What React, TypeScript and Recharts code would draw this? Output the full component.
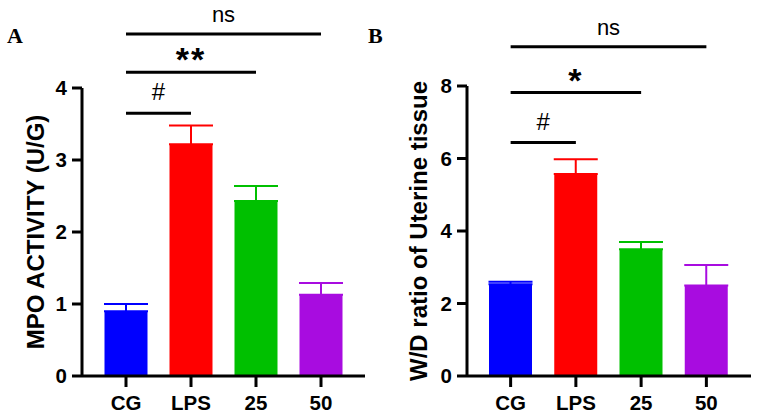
import React from "react";
import { BarChart, Bar, XAxis, YAxis, ErrorBar, ReferenceLine, Label } from "recharts";

const categories = ["CG", "LPS", "25", "50"];
const barColors = ["#0000FF", "#FF0000", "#00C000", "#A80CE0"];

// panel A: MPO activity
const mpoMean = [0.9, 3.22, 2.43, 1.13];
const mpoErr = [0.1, 0.26, 0.21, 0.16];
const mpoTicks = [0, 1, 2, 3, 4];

// panel B: W/D ratio
const wdMean = [2.53, 5.57, 3.5, 2.5];
const wdErr = [0.07, 0.41, 0.2, 0.56];
const wdTicks = [0, 2, 4, 6, 8];

// significance brackets: [from, to, level, text]
const mpoSig: [string, string, number, string][] = [
  ["CG", "LPS", 3.65, "#"],
  ["CG", "25", 4.22, "**"],
  ["CG", "50", 4.75, "ns"],
];
const wdSig: [string, string, number, string][] = [
  ["CG", "LPS", 6.44, "#"],
  ["CG", "25", 7.82, "*"],
  ["CG", "50", 9.08, "ns"],
];

const sans = "Arial, 'Liberation Sans', Helvetica, sans-serif";

// one series per group so each bar + error bar gets its own colour
function buildRows(mean: number[], err: number[]) {
  return categories.map((name, i) => {
    const row: any = { name };
    row[`s${i}`] = mean[i];
    row[`e${i}`] = [0, err[i]];
    return row;
  });
}

function sigLabel(text: string) {
  const isStar = text.includes("*");
  const isHash = text === "#";
  return {
    value: text,
    position: "top" as const,
    offset: isStar ? 1 : isHash ? 13 : 12,
    style: {
      fontFamily: sans,
      fontSize: isStar ? 34 : isHash ? 24 : 22,
      fontWeight: isStar ? 700 : 400,
      letterSpacing: isStar ? 2 : 0,
      fill: "#000",
    },
  };
}

interface PanelProps {
  mean: number[];
  err: number[];
  ticks: number[];
  sig: [string, string, number, string][];
  title: string;
  width: number;
  yWidth: number;
  top: number;
  right: number;
  padL: number;
  padR: number;
  titleDx: number;
}

function Panel({ mean, err, ticks, sig, title, width, yWidth, top, right, padL, padR, titleDx }: PanelProps) {
  const rows = buildRows(mean, err);
  const axisStyle = { stroke: "#000", strokeWidth: 3 };
  const tickStyle = { fill: "#000", fontSize: 20.5, fontWeight: 700, fontFamily: sans };
  return (
    <BarChart width={width} height={418} data={rows} margin={{ top, right, bottom: 0, left: 0 }}>
      <XAxis
        dataKey="name"
        interval={0}
        padding={{ left: padL, right: padR }}
        axisLine={axisStyle}
        tickLine={axisStyle}
        tickSize={11}
        tickMargin={8}
        height={42}
        tick={tickStyle}
      />
      <YAxis
        domain={[ticks[0], ticks[ticks.length - 1]]}
        ticks={ticks}
        width={yWidth}
        axisLine={axisStyle}
        tickLine={axisStyle}
        tickSize={10}
        tickMargin={5}
        tick={tickStyle}
      >
        <Label
          value={title}
          angle={-90}
          position="center"
          dx={titleDx}
          style={{ fill: "#000", fontSize: 24, fontWeight: 700, fontFamily: sans }}
        />
      </YAxis>
      {categories.map((c, i) => (
        <Bar key={c} dataKey={`s${i}`} stackId="a" fill={barColors[i]} barSize={43} isAnimationActive={false}>
          <ErrorBar dataKey={`e${i}`} width={22} strokeWidth={2} stroke={barColors[i]} direction="y" />
        </Bar>
      ))}
      {sig.map(([from, to, level, text]) => (
        <ReferenceLine
          key={text}
          segment={[
            { x: from, y: level },
            { x: to, y: level },
          ]}
          stroke="#000"
          strokeWidth={3}
          ifOverflow="visible"
          label={sigLabel(text)}
        />
      ))}
    </BarChart>
  );
}

const letterStyle: React.CSSProperties = {
  position: "absolute",
  top: 23,
  fontFamily: "'Times New Roman', 'Liberation Serif', serif",
  fontWeight: 700,
  fontSize: 22,
  lineHeight: "25px",
  color: "#000",
};

export default function App() {
  return (
    <div style={{ position: "absolute", left: 0, top: 0, width: 761, height: 418, background: "#fff" }}>
      <div style={{ position: "absolute", left: 0, top: 0 }}>
        <Panel
          mean={mpoMean}
          err={mpoErr}
          ticks={mpoTicks}
          sig={mpoSig}
          title="MPO ACTIVITY (U/G)"
          width={380}
          yWidth={82}
          top={88}
          right={15}
          padL={11.5}
          padR={11.5}
          titleDx={-6}
        />
      </div>
      <div style={{ position: "absolute", left: 380, top: 0 }}>
        <Panel
          mean={wdMean}
          err={wdErr}
          ticks={wdTicks}
          sig={wdSig}
          title="W/D ratio of Uterine tissue"
          width={381}
          yWidth={87}
          top={86}
          right={10}
          padL={11}
          padR={12}
          titleDx={-5}
        />
      </div>
      <div style={{ ...letterStyle, left: 7 }}>A</div>
      <div style={{ ...letterStyle, left: 368 }}>B</div>
    </div>
  );
}
